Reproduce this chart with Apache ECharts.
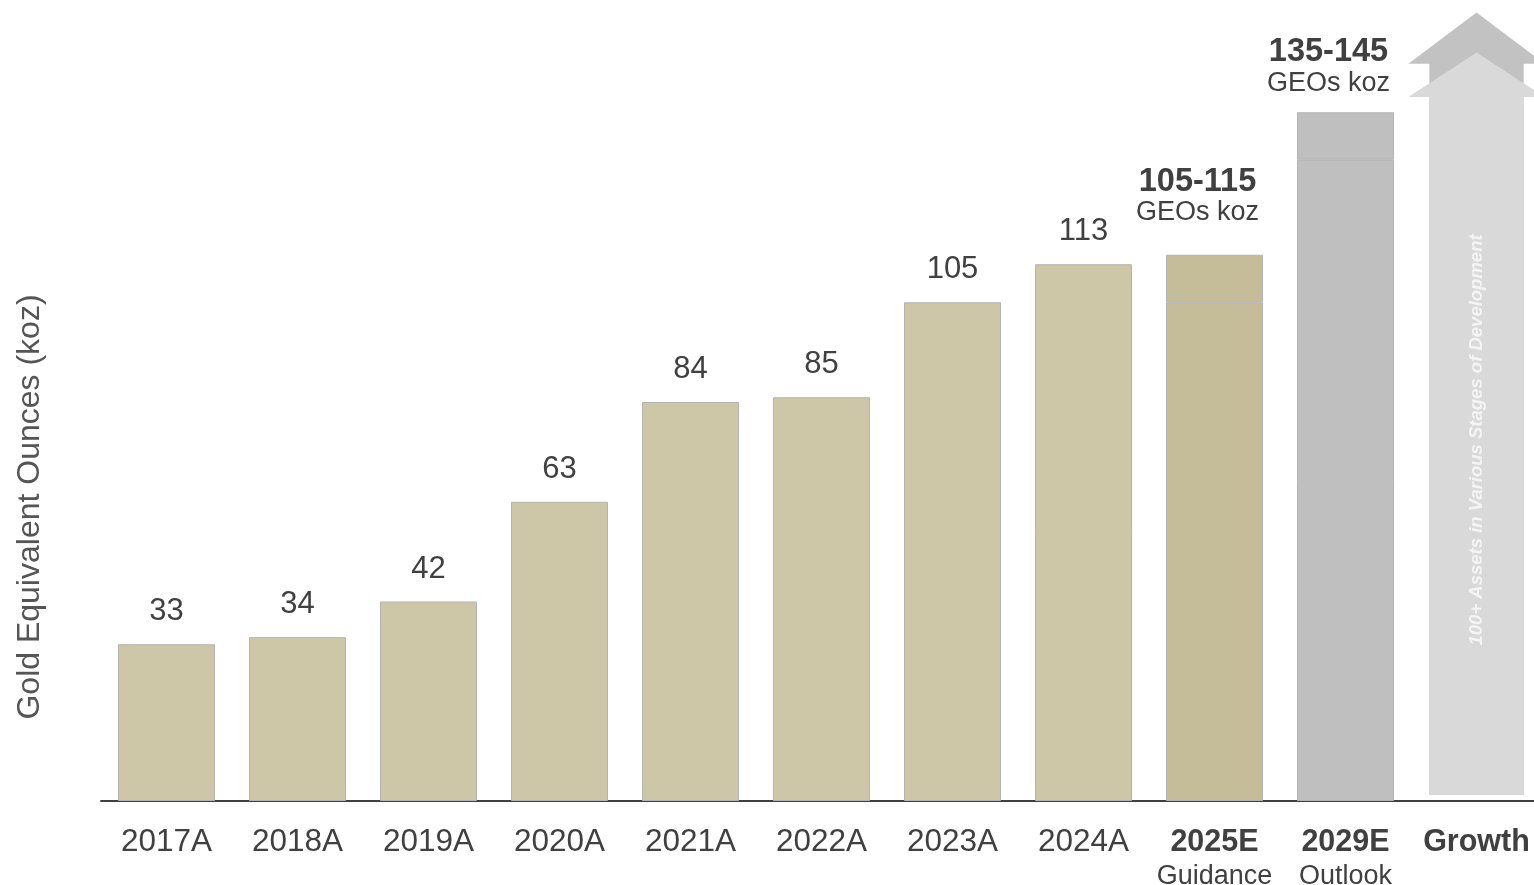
<!DOCTYPE html>
<html>
<head>
<meta charset="utf-8">
<title>GEOs koz</title>
<script src="https://cdn.jsdelivr.net/npm/echarts@6/dist/echarts.min.js"></script>
<style>
  html, body { margin: 0; padding: 0; background: #fff; }
  #main { width: 1534px; height: 885px; }
</style>
</head>
<body>
<div id="main"></div>
<script>
// 数据
var categories = ['2017A', '2018A', '2019A', '2020A', '2021A', '2022A', '2023A', '2024A', '2025E', '2029E', 'Growth'];
var subLabels = ['', '', '', '', '', '', '', '', 'Guidance', 'Outlook', ''];
var boldCats = ['2025E', '2029E', 'Growth'];
var baseValues = [33, 34.5, 42, 63, 84, 85, 105, 113, 105, 135, null];
var rangeValues = [null, null, null, null, null, null, null, null, 10, 10, null];
var valueLabels = ['33', '34', '42', '63', '84', '85', '105', '113', '', '', ''];
var rangeLabels = ['', '', '', '', '', '', '', '', '105-115', '135-145', ''];
// growth arrows: [category, base, tip, neck]
var growthArrows = [
  [10, 1.3, 166, 155.2],
  [10, 1.3, 157.6, 148.2]
];
var growthText = '100+ Assets in Various Stages of Development';

var barColors = ['#cdc7a7', '#cdc7a7', '#cdc7a7', '#cdc7a7', '#cdc7a7', '#cdc7a7', '#cdc7a7', '#cdc7a7', '#c5bd9a', '#bfbfbf', '#fff'];
var rangeLift = [0, 0, 0, 0, 0, 0, 0, 0, -13, 0, 0];
var arrowColors = ['#c2c2c2', '#d9d9d9'];
var FONT = '"Liberation Sans", Arial, Helvetica, sans-serif';
var TXT = '#404040';

var myChart = echarts.init(document.getElementById('main'));

var baseData = baseValues.map(function (v, i) {
  return {
    value: v,
    itemStyle: { color: barColors[i] },
    label: { show: valueLabels[i] !== '' }
  };
});
var rangeData = rangeValues.map(function (v, i) {
  return {
    value: v,
    itemStyle: { color: barColors[i] },
    label: { show: rangeLabels[i] !== '', offset: [-17, rangeLift[i]] }
  };
});

function renderArrow(params, api) {
  var cx = api.coord([api.value(0), 0])[0];
  var base = api.coord([api.value(0), api.value(1)])[1];
  var tip = api.coord([api.value(0), api.value(2)])[1];
  var neck = api.coord([api.value(0), api.value(3)])[1];
  var band = api.size([1, 0])[0];
  var bw = band * 0.72 / 2;
  var hw = band * 1.04 / 2;
  var children = [{
    type: 'polygon',
    shape: {
      points: [
        [cx - bw, base], [cx - bw, neck], [cx - hw, neck], [cx, tip],
        [cx + hw, neck], [cx + bw, neck], [cx + bw, base]
      ]
    },
    style: { fill: arrowColors[params.dataIndex] }
  }];
  if (params.dataIndex === 1) {
    children.push({
      type: 'text',
      x: cx,
      y: (base + neck) / 2 - 6,
      rotation: Math.PI / 2,
      style: {
        text: growthText,
        fill: '#f4f4f4',
        font: 'italic bold 18.5px ' + FONT,
        align: 'center',
        verticalAlign: 'middle'
      }
    });
  }
  return { type: 'group', children: children };
}

var option = {
  animation: false,
  grid: { left: 101, right: -8, top: 3, bottom: 84, outerBoundsMode: 'none' },
  xAxis: {
    type: 'category',
    data: categories,
    axisTick: { show: false },
    axisLine: { lineStyle: { color: '#404040', width: 2 } },
    axisLabel: {
      margin: 24,
      interval: 0,
      formatter: function (v, i) {
        var key = boldCats.indexOf(v) >= 0 ? 'b' : 'a';
        var s = '{' + key + '|' + v + '}';
        if (subLabels[i]) s += '\n{s|' + subLabels[i] + '}';
        return s;
      },
      rich: {
        a: { fontFamily: FONT, fontSize: 31.5, color: TXT, lineHeight: 35 },
        b: { fontFamily: FONT, fontSize: 30.5, fontWeight: 'bold', color: TXT, lineHeight: 35 },
        s: { fontFamily: FONT, fontSize: 27, color: TXT, lineHeight: 33 }
      }
    }
  },
  yAxis: {
    type: 'value',
    min: 0,
    max: 168,
    show: false
  },
  graphic: [{
    type: 'text',
    x: 30,
    y: 507,
    rotation: Math.PI / 2,
    style: {
      text: 'Gold Equivalent Ounces (koz)',
      fill: '#555555',
      font: '32px ' + FONT,
      align: 'center',
      verticalAlign: 'middle'
    }
  }],
  series: [{
    type: 'bar',
    stack: 'geo',
    barWidth: 97,
    data: baseData,
    itemStyle: { borderColor: '#b3b3b3', borderWidth: 1 },
    label: {
      position: 'top',
      distance: 17,
      fontFamily: FONT,
      fontSize: 31,
      color: TXT,
      formatter: function (p) { return valueLabels[p.dataIndex]; }
    }
  }, {
    type: 'bar',
    stack: 'geo',
    barWidth: 97,
    data: rangeData,
    itemStyle: { borderColor: '#b3b3b3', borderWidth: 1 },
    label: {
      position: 'top',
      distance: 14,
      formatter: function (p) {
        return '{r|' + rangeLabels[p.dataIndex] + '}\n{g|GEOs koz}';
      },
      rich: {
        r: { fontFamily: FONT, fontSize: 32.5, fontWeight: 'bold', color: TXT, lineHeight: 32 },
        g: { fontFamily: FONT, fontSize: 27, color: TXT, lineHeight: 30 }
      }
    }
  }, {
    type: 'custom',
    renderItem: renderArrow,
    data: growthArrows,
    z: 1
  }]
};

myChart.setOption(option);
</script>
</body>
</html>
